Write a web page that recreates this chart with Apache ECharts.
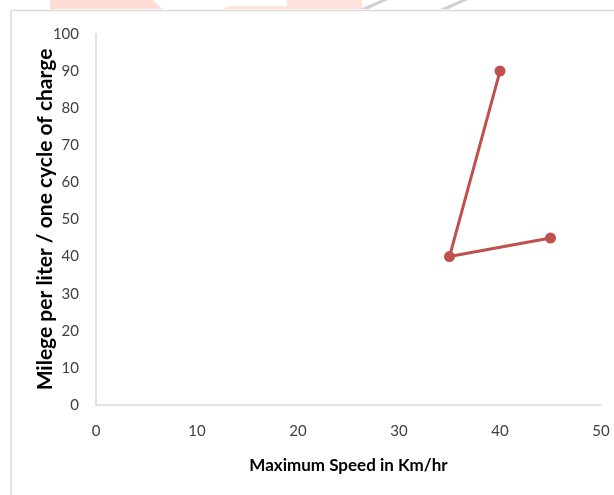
<!DOCTYPE html>
<html>
<head>
<meta charset="utf-8">
<script src="https://cdn.jsdelivr.net/npm/echarts@6/dist/echarts.min.js"></script>
<style>
  html, body { margin: 0; padding: 0; background: #fff; }
  #chart { width: 614px; height: 495px; }
</style>
</head>
<body>
<div id="chart"></div>
<script>
// Speed (km/hr) against mileage, in drawing order
const speeds = [40, 35, 45];
const mileage = [90, 40, 45];

const xTitle = 'Maximum Speed in Km/hr';
const yTitle = 'Milege per liter / one cycle of charge';

const labelFont = "Lato, 'Open Sans', sans-serif";
const titleFont = "Lato, 'Open Sans', sans-serif";

const points = speeds.map((s, i) => [s, mileage[i]]);

const chart = echarts.init(document.getElementById('chart'), null, { renderer: 'canvas' });

chart.setOption({
  animation: false,
  backgroundColor: '#ffffff',
  graphic: [
    // faint banner fragment along the top edge
    { type: 'polygon', shape: { points: [[50, 0], [153, 0], [162, 9], [50, 9]] }, style: { fill: '#ffdcd5' }, silent: true },
    { type: 'polygon', shape: { points: [[287, 0], [362, 0], [362, 9], [222, 9], [230, 6], [287, 6]] }, style: { fill: '#ffe2dc' }, silent: true },
    { type: 'polygon', shape: { points: [[381, 0], [388, 0], [368, 9], [360, 9]] }, style: { fill: '#cfcfcf' }, silent: true },
    { type: 'polygon', shape: { points: [[461, 0], [468, 0], [448, 9], [440, 9]] }, style: { fill: '#cfcfcf' }, silent: true },
    // chart-area frame
    { type: 'polyline', shape: { points: [[11, 495], [11, 10.5], [614, 10.5]] }, style: { stroke: '#dadada', lineWidth: 1.5, fill: null }, silent: true }
  ],
  grid: { left: 96, right: 13, top: 34, bottom: 90, containLabel: false },
  xAxis: {
    type: 'value',
    min: 0, max: 50, interval: 10,
    name: xTitle,
    nameLocation: 'middle',
    nameGap: 52,
    nameMoveOverlap: false,
    nameTextStyle: { fontFamily: titleFont, fontWeight: 'bold', fontSize: 17, color: '#000' },
    axisLine: { show: true, lineStyle: { color: '#d9d9d9', width: 1.5 } },
    axisTick: { show: false },
    splitLine: { show: false },
    axisLabel: { fontFamily: labelFont, fontSize: 15, color: '#404040', margin: 19 }
  },
  yAxis: {
    type: 'value',
    min: 0, max: 100, interval: 10,
    name: yTitle,
    nameLocation: 'middle',
    nameRotate: 90,
    nameGap: 40,
    nameMoveOverlap: false,
    nameTextStyle: { fontFamily: titleFont, fontWeight: 'bold', fontSize: 21, color: '#000' },
    axisLine: { show: true, lineStyle: { color: '#d9d9d9', width: 1.5 } },
    axisTick: { show: false },
    splitLine: { show: false },
    axisLabel: { fontFamily: labelFont, fontSize: 15, color: '#404040', margin: 17 }
  },
  series: [{
    type: 'line',
    data: points,
    symbol: 'circle',
    symbolSize: 11,
    lineStyle: { color: '#c0504d', width: 3 },
    itemStyle: { color: '#c0504d' }
  }]
});
</script>
</body>
</html>
